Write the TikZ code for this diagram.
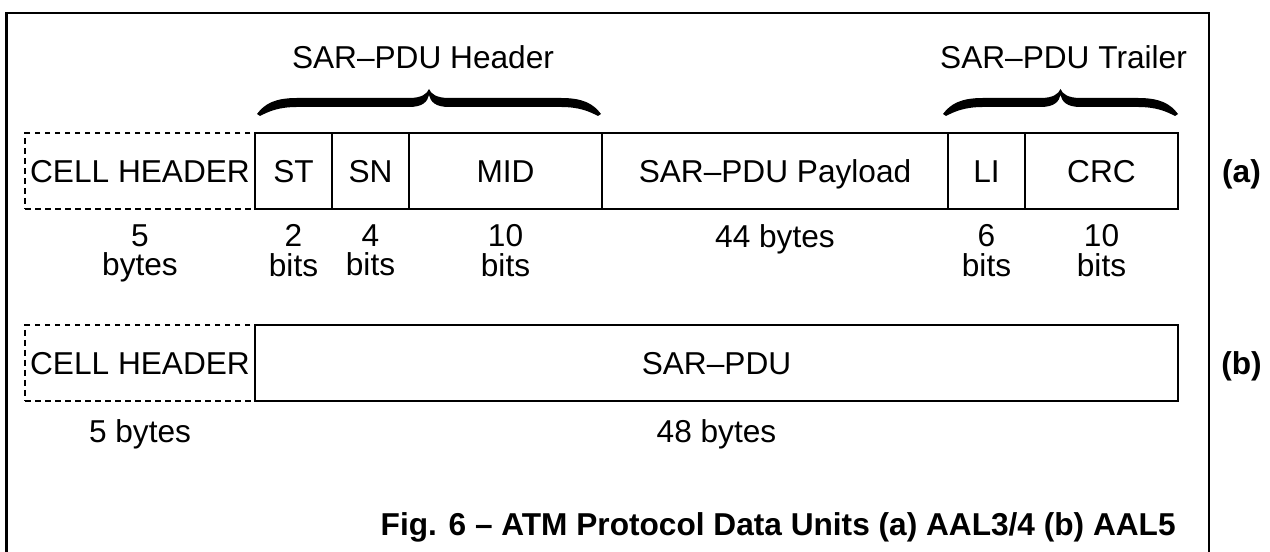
\documentclass[tikz,border=0pt]{standalone}
\usepackage{fontspec}
\setmainfont{Liberation Sans}
\usetikzlibrary{positioning}

\tikzset{
  field/.style={draw, line width=1pt, minimum height=1.52cm, inner sep=0pt,
    outer sep=0pt, font=\fontsize{18}{18}\selectfont, text height=13pt,
    text depth=0pt},
  cellhdr/.style={field, dash pattern=on 3.2pt off 2.5pt},
  sizelbl/.style={align=center, inner sep=0pt, font=\fontsize{18}{17}\selectfont},
  grouplbl/.style={inner sep=0pt, anchor=base, font=\fontsize{18}{18}\selectfont},
  rowlbl/.style={inner sep=0pt, font=\fontsize{18}{18}\selectfont\bfseries,
    text height=13pt, text depth=0pt},
  caption/.style={inner sep=0pt, font=\fontsize{18}{18}\selectfont\bfseries},
}

% filled curly brace: left x, right x, y of the tips
\newcommand{\pdubrace}[3]{%
  \pgfmathsetmacro{\bl}{#1}\pgfmathsetmacro{\br}{#2}%
  \pgfmathsetmacro{\bm}{(#1+#2)/2}%
  \fill (\bl,#3) .. controls (\bl+0.15,#3+0.2) and (\bl+0.35,#3+0.32) .. (\bl+0.8,#3+0.32)
    -- (\bm-0.4,#3+0.32) .. controls (\bm-0.15,#3+0.32) and (\bm-0.04,#3+0.4) .. (\bm,#3+0.5)
    .. controls (\bm+0.04,#3+0.4) and (\bm+0.15,#3+0.32) .. (\bm+0.4,#3+0.32)
    -- (\br-0.8,#3+0.32) .. controls (\br-0.35,#3+0.32) and (\br-0.15,#3+0.2) .. (\br,#3)
    -- (\br-0.06,#3-0.04) .. controls (\br-0.25,#3+0.06) and (\br-0.45,#3+0.14) .. (\br-0.8,#3+0.14)
    -- (\bm+0.4,#3+0.14) .. controls (\bm+0.12,#3+0.14) and (\bm+0.03,#3+0.25) .. (\bm,#3+0.38)
    .. controls (\bm-0.03,#3+0.25) and (\bm-0.12,#3+0.14) .. (\bm-0.4,#3+0.14)
    -- (\bl+0.8,#3+0.14) .. controls (\bl+0.45,#3+0.14) and (\bl+0.25,#3+0.06) .. (\bl+0.06,#3-0.04)
    -- cycle;}

\begin{document}
\begin{tikzpicture}
  \useasboundingbox (0,0) rectangle (25.4,-11.04);
  % frame, runs off the bottom
  \draw[line width=1.4pt] (0.13,-11.04) -- (0.13,-0.26) -- (24.18,-0.26) -- (24.18,-11.04);

  % (a) AAL3/4
  \node[cellhdr, minimum width=4.6cm] (chA) at (2.8,-3.42) {CELL HEADER};
  \node[field, minimum width=1.54cm, right=0pt of chA] (st) {ST};
  \node[field, minimum width=1.54cm, right=0pt of st] (sn) {SN};
  \node[field, minimum width=3.86cm, right=0pt of sn] (mid) {MID};
  \node[field, minimum width=6.92cm, right=0pt of mid] (payload) {SAR–PDU Payload};
  \node[field, minimum width=1.54cm, right=0pt of payload] (li) {LI};
  \node[field, minimum width=3.06cm, right=0pt of li] (crc) {CRC};
  \node[rowlbl] (rowA) at (24.83,-3.42) {(a)};

  \node[sizelbl, below=0.3cm of chA] (chAsz) {5\\bytes};
  \node[sizelbl, below=0.3cm of st] (stsz) {2\\bits};
  \node[sizelbl, below=0.3cm of sn] (snsz) {4\\bits};
  \node[sizelbl, below=0.3cm of mid] (midsz) {10\\bits};
  \node[sizelbl, below=0.3cm of payload] (payloadsz) {44 bytes};
  \node[sizelbl, below=0.3cm of li] (lisz) {6\\bits};
  \node[sizelbl, below=0.3cm of crc] (crcsz) {10\\bits};

  % header and trailer braces
  \pdubrace{5.14}{12.02}{-2.28}
  \pdubrace{18.86}{23.56}{-2.28}
  \node[grouplbl] (hdr) at (8.46,-1.38) {SAR–PDU Header};
  \node[grouplbl] (trl) at (21.27,-1.38) {SAR–PDU Trailer};

  % (b) AAL5
  \node[cellhdr, minimum width=4.6cm] (chB) at (2.8,-7.26) {CELL HEADER};
  \node[field, minimum width=18.46cm, right=0pt of chB] (sarpdu) {SAR–PDU};
  \node[rowlbl] (rowB) at (24.83,-7.26) {(b)};

  \node[sizelbl, below=0.36cm of chB] (chBsz) {5 bytes};
  \node[sizelbl, below=0.36cm of sarpdu] (sarpdusz) {48 bytes};

  \node[caption, anchor=base east] (cap) at (23.52,-10.72)
    {Fig. 6 – ATM Protocol Data Units (a) AAL3/4 (b) AAL5};
\end{tikzpicture}
\end{document}
